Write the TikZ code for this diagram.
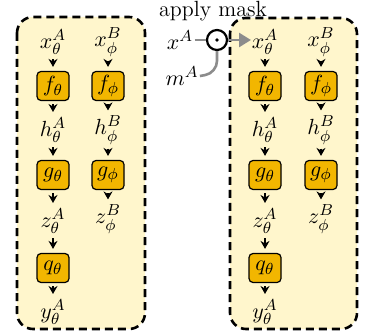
\documentclass[tikz,border=0pt]{standalone}
\usetikzlibrary{arrows.meta}
\definecolor{panelfill}{RGB}{255,246,204}
\definecolor{boxfill}{RGB}{242,182,0}
\definecolor{maskgray}{RGB}{140,140,140}
\begin{document}
\begin{tikzpicture}[x=0.5pt,y=-0.5pt,font=\fontsize{11}{13}\selectfont,
  panel/.style={draw=black,fill=panelfill,line width=1.3pt,dash pattern=on 4pt off 2.5pt,rounded corners=8pt},
  fbox/.style={draw=black,fill=boxfill,line width=0.6pt,rounded corners=2pt,minimum width=16pt,minimum height=14.5pt,inner sep=1pt},
  lab/.style={inner sep=0.5pt},
  flow/.style={-{Stealth[length=4pt,width=4.5pt]},line width=0.75pt,shorten <=1.5pt,shorten >=2pt},
  gline/.style={draw=maskgray,line width=1.3pt}]
\useasboundingbox (0,0) rectangle (367,335);
% panels
\draw[panel] (17,17) rectangle (145,329);
\draw[panel] (230,18) rectangle (357,329);
% columns
\foreach \p/\xa/\xb in {L/53/108, R/265/321}{
  \node[lab] (\p xa) at (\xa,42) {$x_\theta^A$};
  \node[fbox] (\p fa) at (\xa,86) {$f_\theta$};
  \node[lab] (\p ha) at (\xa,130) {$h_\theta^A$};
  \node[fbox] (\p ga) at (\xa,175) {$g_\theta$};
  \node[lab] (\p za) at (\xa,221) {$z_\theta^A$};
  \node[fbox] (\p qa) at (\xa,268) {$q_\theta$};
  \node[lab] (\p ya) at (\xa,312) {$y_\theta^A$};
  \node[lab] (\p xb) at (\xb,42) {$x_\phi^B$};
  \node[fbox] (\p fb) at (\xb,86) {$f_\phi$};
  \node[lab] (\p hb) at (\xb,130) {$h_\phi^B$};
  \node[fbox] (\p gb) at (\xb,175) {$g_\phi$};
  \node[lab] (\p zb) at (\xb,219) {$z_\phi^B$};
  \draw[flow] (\p xa) -- (\p fa);
  \draw[flow] (\p fa) -- (\p ha);
  \draw[flow] (\p ha) -- (\p ga);
  \draw[flow] (\p ga) -- (\p za);
  \draw[flow] (\p za) -- (\p qa);
  \draw[flow] (\p qa) -- (\p ya);
  \draw[flow] (\p xb) -- (\p fb);
  \draw[flow] (\p fb) -- (\p hb);
  \draw[flow] (\p hb) -- (\p gb);
  \draw[flow] (\p gb) -- (\p zb);
}
% mask
\node[inner sep=0pt] (title) at (213,11) {apply mask};
\node[lab] (xA) at (180,40) {$x^A$};
\node[lab] (mA) at (182,76) {$m^A$};
\node[circle,draw=black,line width=1.1pt,minimum size=10pt,inner sep=0pt] (odot) at (217,40) {};
\fill (odot.center) circle (0.9pt);
\draw[gline] (xA.east) -- (odot.west);
\draw[gline,-{Triangle[length=6pt,width=7pt]}] (odot.east) -- (251,40);
\draw[gline,rounded corners=6pt] (mA.east) -- (217,73) -- (odot.south);
\end{tikzpicture}
\end{document}
